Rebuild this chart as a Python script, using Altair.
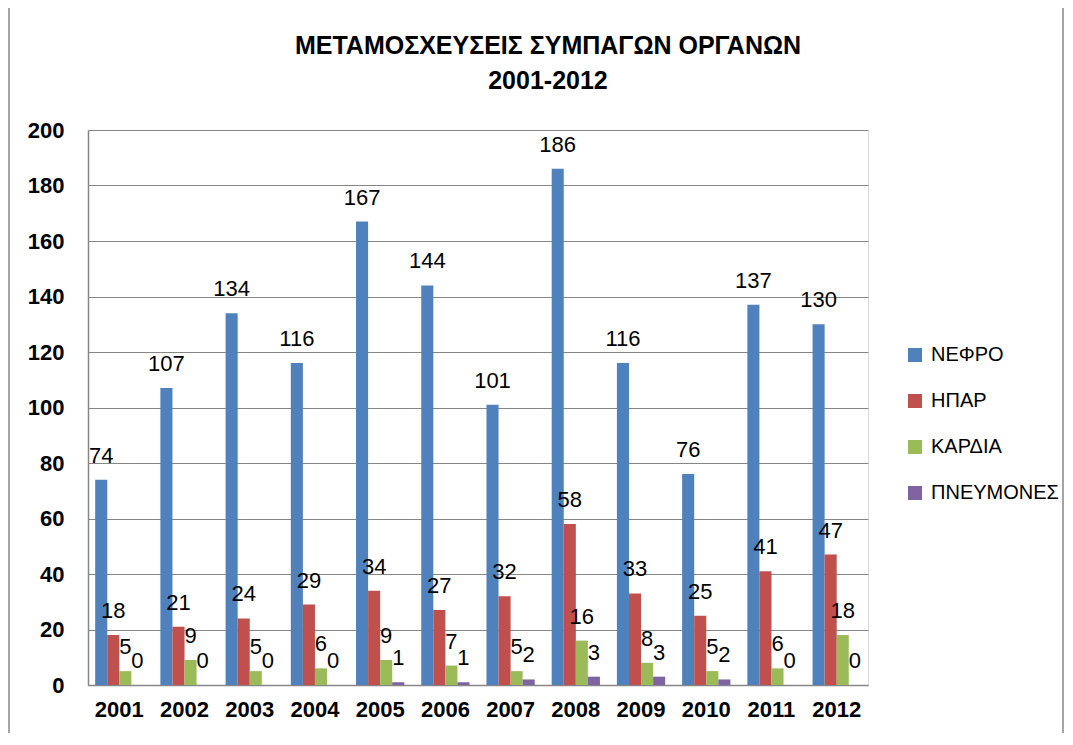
import altair as alt
import pandas as pd

years = ["2001", "2002", "2003", "2004", "2005", "2006", "2007", "2008", "2009", "2010", "2011", "2012"]
series = ["ΝΕΦΡΟ", "ΗΠΑΡ", "ΚΑΡΔΙΑ", "ΠΝΕΥΜΟΝΕΣ"]
nefro = [74, 107, 134, 116, 167, 144, 101, 186, 116, 76, 137, 130]
ipar = [18, 21, 24, 29, 34, 27, 32, 58, 33, 25, 41, 47]
kardia = [5, 9, 5, 6, 9, 7, 5, 16, 8, 5, 6, 18]
pneumones = [0, 0, 0, 0, 1, 1, 2, 3, 3, 2, 0, 0]
colors = ["#4F81BD", "#C0504D", "#9BBB59", "#8064A2"]

rows = []
for name, vals in zip(series, [nefro, ipar, kardia, pneumones]):
    for y, v in zip(years, vals):
        rows.append({"year": y, "organ": name, "value": v})
df = pd.DataFrame(rows)

FONT = "Liberation Sans"

x = alt.X("year:N", sort=years, title=None,
          scale=alt.Scale(paddingInner=0.26, paddingOuter=0.11),
          axis=alt.Axis(labelFont=FONT, labelFontSize=22, labelFontWeight="bold",
                        labelColor="black", labelAngle=0, ticks=False, labelPadding=14,
                        domainColor="#868686", domainWidth=1.5))
xo = alt.XOffset("organ:N", sort=series, scale=alt.Scale(paddingInner=0, paddingOuter=0))
y = alt.Y("value:Q", title=None,
          scale=alt.Scale(domain=[0, 200], nice=False),
          axis=alt.Axis(values=list(range(0, 201, 20)), labelFont=FONT, labelFontSize=22,
                        labelFontWeight="bold", labelColor="black", ticks=False,
                        labelPadding=24, gridColor="#868686", gridWidth=1.2,
                        domainColor="#868686", domainWidth=1.5))
color = alt.Color("organ:N", sort=series,
                  scale=alt.Scale(domain=series, range=colors),
                  legend=alt.Legend(title=None, orient="none", legendX=817, legendY=215,
                                    symbolType="square", symbolSize=196, symbolStrokeWidth=0,
                                    labelFont=FONT, labelFontSize=20, labelColor="black",
                                    rowPadding=26, labelOffset=6))

base = alt.Chart(df)
bars = base.mark_bar().encode(x=x, xOffset=xo, y=y, color=color)
labels = base.mark_text(font=FONT, fontSize=22, color="black", baseline="bottom", dy=-12).encode(
    x=x, xOffset=xo, y=y, text="value:Q")

frame = alt.Chart(pd.DataFrame({"a": [0]})).mark_rect(
    fill=None, stroke="#888888", strokeWidth=1.5).encode(
    x=alt.value(-79), x2=alt.value(975), y=alt.value(-124), y2=alt.value(640))

chart = alt.layer(frame, bars, labels).properties(
    width=780, height=555,
    padding={"left": 80, "top": 122, "right": 197, "bottom": 48},
    autosize=alt.AutoSizeParams(type="none"),
    title=alt.Title(["ΜΕΤΑΜΟΣΧΕΥΣΕΙΣ ΣΥΜΠΑΓΩΝ ΟΡΓΑΝΩΝ", "2001-2012"],
                    font=FONT, fontSize=25, fontWeight="bold", color="black",
                    lineHeight=35, anchor="middle", frame="group", dx=70, offset=-89),
).configure_view(stroke=None).configure(background="white")

chart.save("out.html", embed_options={"renderer": "svg", "actions": False})
